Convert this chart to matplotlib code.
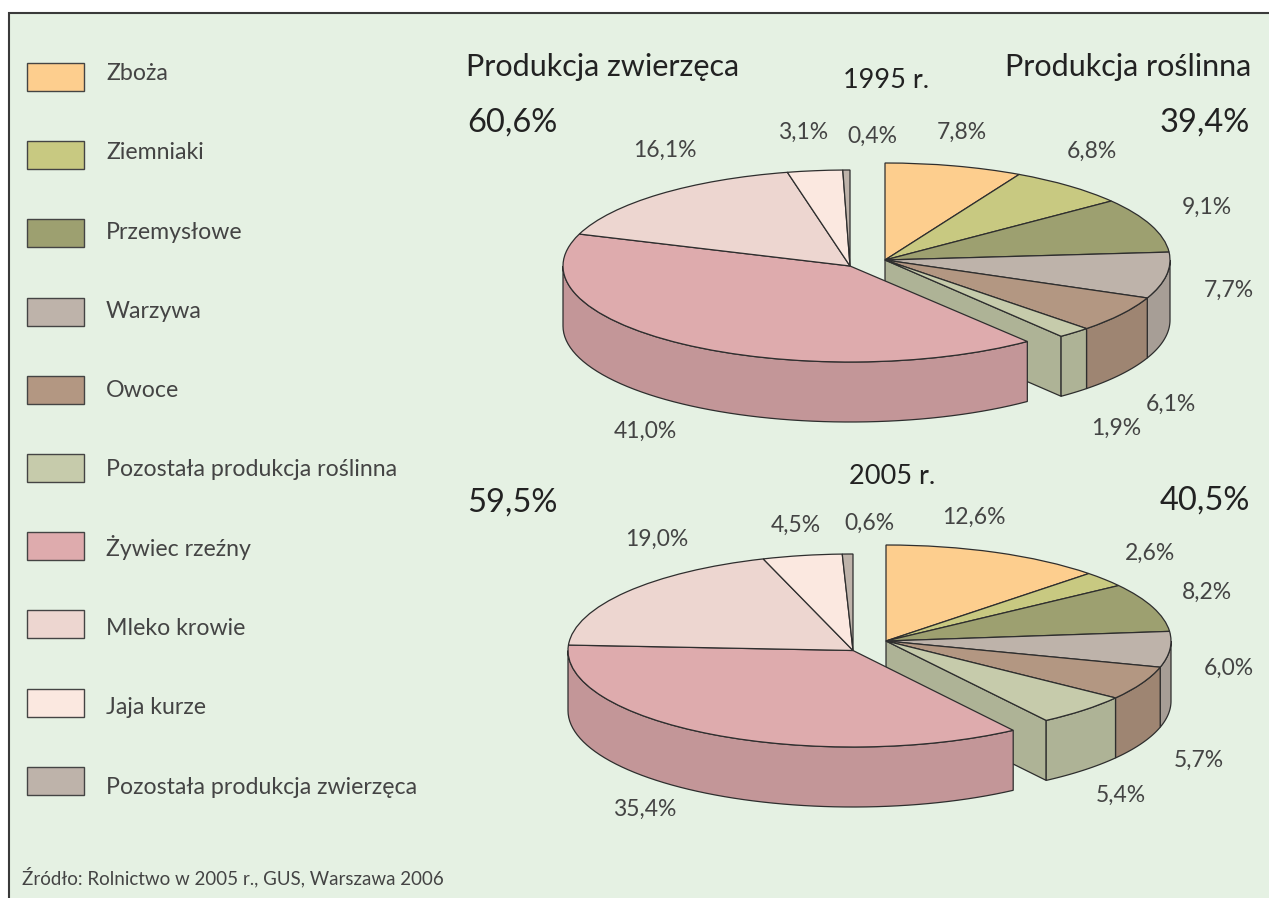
#!/usr/bin/env python3
import numpy as np
import matplotlib
matplotlib.use("Agg")
import matplotlib.pyplot as plt
from matplotlib.colors import to_rgb
from matplotlib.patches import Polygon, Rectangle
from matplotlib.transforms import Affine2D

categories = [
    "Zboża", "Ziemniaki", "Przemysłowe", "Warzywa", "Owoce",
    "Pozostała produkcja roślinna", "Żywiec rzeźny", "Mleko krowie",
    "Jaja kurze", "Pozostała produkcja zwierzęca",
]
colors = [
    "#FDCE8E", "#C8C981", "#9DA070", "#BEB3AA", "#B39782",
    "#C6CBAB", "#DEABAD", "#EDD6D0", "#FBE8E0", "#BEB3AA",
]
values_1995 = [7.8, 6.8, 9.1, 7.7, 6.1, 1.9, 41.0, 16.1, 3.1, 0.4]
values_2005 = [12.6, 2.6, 8.2, 6.0, 5.7, 5.4, 35.4, 19.0, 4.5, 0.6]
n_plant = 6

label_pos_1995 = [(962, 132), (1092, 151), (1207, 207), (1229, 290), (1171, 404),
                  (1116, 428), (645, 431), (665, 150), (803, 132), (872, 136)]
label_pos_2005 = [(974, 517), (1150, 553), (1207, 592), (1229, 668), (1199, 760),
                  (1121, 795), (645, 809), (657, 539), (796, 525), (869, 523)]

BG = "#E5F1E3"
INK = "#444444"
HEAD = "#222222"
LINE = "#2E2E2E"
FONT = ["Lato", "DejaVu Sans"]
DEPTH = 60


def shade(c, f=0.88):
    return tuple(v * f for v in to_rgb(c))


def wall(ax, cx, cy, rx, ry, a0, a1, color, z):
    # a0 > a1, clockwise, only the front half of the rim shows
    a0, a1 = min(a0, 0), max(a1, -180)
    if a0 <= a1:
        return
    t = np.radians(np.linspace(a0, a1, 60))
    x = cx + rx * np.cos(t)
    y = cy - ry * np.sin(t)
    pts = np.r_[np.c_[x, y], np.c_[x[::-1], y[::-1] + DEPTH]]
    ax.add_patch(Polygon(pts, closed=True, fc=color, ec=LINE, lw=0.9, zorder=z))


def draw_group(ax, values, start, cols, cx, cy, rx, ry, z):
    angles = start - 3.6 * np.r_[0, np.cumsum(values)]

    # cut face, only the right group turns it to the viewer
    t = np.radians(angles[-1])
    if np.sin(t) < 0 and np.cos(t) > 0:
        ex, ey = cx + rx * np.cos(t), cy - ry * np.sin(t)
        face = [(cx, cy), (ex, ey), (ex, ey + DEPTH), (cx, cy + DEPTH)]
        ax.add_patch(Polygon(face, closed=True, fc=shade(cols[-1]), ec=LINE, lw=0.9, zorder=z))

    for i, col in enumerate(cols):
        wall(ax, cx, cy, rx, ry, angles[i], angles[i + 1], shade(col), z + 1)

    wedges, _ = ax.pie(
        [v / 100 for v in values], colors=cols, startangle=start, counterclock=False,
        normalize=False, radius=1, center=(0, 0),
        wedgeprops={"edgecolor": LINE, "linewidth": 0.9},
    )
    tr = Affine2D().scale(rx, -ry).translate(cx, cy) + ax.transData
    for w in wedges:
        w.set_transform(tr)
        w.set_zorder(z + 2)


def draw_pie(ax, values, right, left, label_pos):
    share = sum(values[:n_plant])
    draw_group(ax, values[:n_plant], 90, colors[:n_plant], *right, 3)
    draw_group(ax, values[n_plant:], 90 - 3.6 * share, colors[n_plant:], *left, 6)
    for v, (x, y) in zip(values, label_pos):
        ax.text(x, y, f"{v:.1f}%".replace(".", ","), ha="center", va="center",
                fontsize=16.5, color=INK, family=FONT, zorder=10)


def main():
    fig = plt.figure(figsize=(12.69, 8.98), dpi=100, facecolor="white")
    ax = fig.add_axes([0, 0, 1, 1])

    ax.add_patch(Rectangle((9, 13), 1300, 900, fc=BG, ec="#3A3A3A", lw=1.5, zorder=0))

    draw_pie(ax, values_1995, (885, 260, 285, 97), (850, 266, 287, 96), label_pos_1995)
    draw_pie(ax, values_2005, (886, 641, 285, 96), (853, 650.5, 285, 96.5), label_pos_2005)

    # legend, texts run on a slightly wider step than the boxes
    for i, (name, col) in enumerate(zip(categories, colors)):
        y = 63 + 78.2 * i
        ax.add_patch(Rectangle((27, y), 57, 28, fc=col, ec="#444444", lw=1.0, zorder=2))
        ax.text(106, 80 + 79.3 * i, name, ha="left", va="baseline", fontsize=16.7, color=INK, family=FONT)

    ax.text(466, 67, "Produkcja zwierzęca", ha="left", va="center", fontsize=22, color=HEAD, family=FONT)
    ax.text(1251, 67, "Produkcja roślinna", ha="right", va="center", fontsize=22, color=HEAD, family=FONT)
    ax.text(886, 81, "1995 r.", ha="center", va="center", fontsize=19.5, color=HEAD, family=FONT)
    ax.text(892, 476, "2005 r.", ha="center", va="center", fontsize=19.5, color=HEAD, family=FONT)
    for txt, x, y in [("60,6%", 512, 123), ("39,4%", 1205, 123), ("59,5%", 512, 503), ("40,5%", 1205, 501)]:
        ax.text(x, y, txt, ha="center", va="center", fontsize=23.5, color=HEAD, family=FONT)

    ax.text(22, 877, "Źródło: Rolnictwo w 2005 r., GUS, Warszawa 2006", ha="left", va="center",
            fontsize=13.5, color=INK, family=FONT)

    ax.set_aspect("auto")
    ax.set_xlim(0, 1269)
    ax.set_ylim(898, 0)
    ax.axis("off")
    fig.savefig("out.png", dpi=100, facecolor="white")


if __name__ == "__main__":
    main()
